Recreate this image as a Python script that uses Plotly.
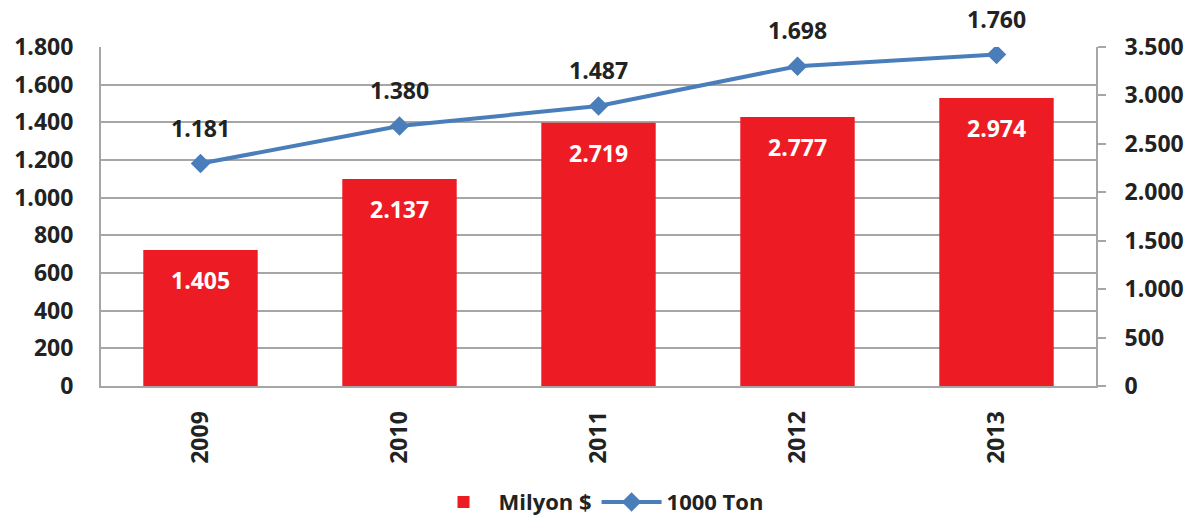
import plotly.graph_objects as go

years = ["2009", "2010", "2011", "2012", "2013"]
milyon_usd = [1405, 2137, 2719, 2777, 2974]
bin_ton = [1181, 1380, 1487, 1698, 1760]
left_ticks = [0, 200, 400, 600, 800, 1000, 1200, 1400, 1600, 1800]
right_ticks = [0, 500, 1000, 1500, 2000, 2500, 3000, 3500]


def tr(v):
    return f"{v:,}".replace(",", ".")


FONT = "Open Sans"
RED = "#ed1c24"
BLUE = "#4a7ebb"
GRID = "#a6a6a6"
DARK = "#222222"

fig = go.Figure()
fig.add_trace(go.Bar(
    x=years, y=milyon_usd, name="Milyon $", yaxis="y2",
    marker=dict(color=RED, line_width=0),
))
fig.add_trace(go.Scatter(
    x=years, y=bin_ton, name="1000 Ton", yaxis="y",
    mode="lines+markers",
    line=dict(color=BLUE, width=4),
    marker=dict(symbol="diamond", size=15, color=BLUE),
))

# category axis: annotations use the category index
annotations = []
for i, v in enumerate(milyon_usd):
    annotations.append(dict(
        x=i, y=v, xref="x", yref="y2", text=tr(v), showarrow=False,
        yshift=-30, font=dict(family=FONT, size=23, color="white", weight="bold"),
    ))
for i, v in enumerate(bin_ton):
    annotations.append(dict(
        x=i, y=v, xref="x", yref="y", text=tr(v), showarrow=False,
        yshift=36, font=dict(family=FONT, size=23, color=DARK, weight="bold"),
    ))

tick_font = dict(family=FONT, size=23, color=DARK, weight="bold")

# page body has an 8px margin, so the figure is sized to fill the rest
fig.update_layout(
    width=1186, height=512,
    margin=dict(l=93, r=98, t=39, b=134),
    paper_bgcolor="white", plot_bgcolor="white",
    bargap=0.425,
    showlegend=True,
    legend=dict(orientation="h", x=0.5, xanchor="center",
                yref="container", y=0.035, yanchor="middle",
                font=dict(family=FONT, size=22, color=DARK, weight="bold"),
                itemwidth=60, tracegroupgap=0),
    xaxis=dict(
        type="category", range=[-0.5, len(years) - 0.5], automargin=False,
        tickangle=-90, tickfont=tick_font,
        showline=True, linecolor=GRID, linewidth=2,
        ticks="outside", ticklen=14, tickcolor="rgba(0,0,0,0)",
        showgrid=False,
    ),
    yaxis=dict(
        range=[0, 1800], tickvals=left_ticks, ticktext=[tr(v) for v in left_ticks],
        tickfont=tick_font, showgrid=True, gridcolor=GRID, gridwidth=2,
        showline=True, linecolor=GRID, linewidth=2, automargin=False,
        ticks="outside", ticklen=21, tickcolor="rgba(0,0,0,0)",
        zeroline=False,
    ),
    yaxis2=dict(
        range=[0, 3500], tickvals=right_ticks, ticktext=[tr(v) for v in right_ticks],
        tickfont=tick_font, overlaying="y", side="right", showgrid=False,
        showline=True, linecolor=GRID, linewidth=2, automargin=False,
        ticks="outside", ticklen=8, tickcolor=GRID, tickwidth=2,
        ticklabelstandoff=14,
        zeroline=False,
    ),
    annotations=annotations,
)

fig.write_html("out.html")
